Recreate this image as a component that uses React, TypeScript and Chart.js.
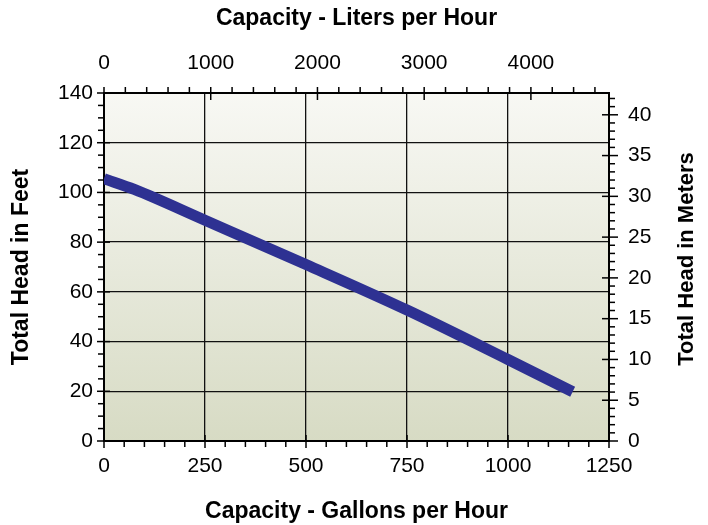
import React, { useEffect, useRef } from 'react';
import { Chart, registerables } from 'chart.js';

Chart.register(...registerables);

// ---- data ----
const gallonsPerHour = [0, 75, 250, 500, 750, 1000, 1160];
const headFeet = [105.5, 101.2, 88.8, 71, 52.7, 32.8, 19.8];

const gallonTicks = [0, 250, 500, 750, 1000, 1250];
const literTicks = [0, 1000, 2000, 3000, 4000];
const feetTicks = [0, 20, 40, 60, 80, 100, 120, 140];
const meterTicks = [0, 5, 10, 15, 20, 25, 30, 35, 40];

const bottomTitle = 'Capacity - Gallons per Hour';
const topTitle = 'Capacity - Liters per Hour';
const leftTitle = 'Total Head in Feet';
const rightTitle = 'Total Head in Meters';

const gallonsMax = 1250;
const feetMax = 140;
const LITERS_PER_GALLON = 3.78541;
const METERS_PER_FOOT = 0.3048;

const FONT = "'Liberation Sans', Arial, Helvetica, sans-serif";

const bgPlugin = {
  id: 'bgGradient',
  beforeDraw(chart: any) {
    const { ctx, chartArea } = chart;
    if (!chartArea) return;
    const g = ctx.createLinearGradient(0, chartArea.top, 0, chartArea.bottom);
    g.addColorStop(0, '#f8f8f4');
    g.addColorStop(1, '#d7dbc4');
    ctx.save();
    ctx.fillStyle = g;
    ctx.fillRect(chartArea.left, chartArea.top, chartArea.right - chartArea.left, chartArea.bottom - chartArea.top);
    ctx.restore();
  },
};

const tickPlugin = {
  id: 'customTicks',
  afterDraw(chart: any) {
    const { ctx, chartArea, scales } = chart;
    const { left, right, top, bottom } = chartArea;
    ctx.save();
    ctx.strokeStyle = '#000';
    ctx.lineWidth = 1.5;
    const line = (x1: number, y1: number, x2: number, y2: number) => {
      ctx.beginPath();
      ctx.moveTo(x1, y1);
      ctx.lineTo(x2, y2);
      ctx.stroke();
    };
    const eps = 1e-6;
    const sx = scales.x;
    for (let v = 0; v <= sx.max + eps; v += 50) {
      const p = sx.getPixelForValue(v);
      const major = Math.abs(v % 250) < eps;
      if (major) line(p, bottom - 6, p, bottom + 7);
      else line(p, bottom, p, bottom + 6);
    }
    const sx2 = scales.x2;
    for (let v = 0; v <= sx2.max + eps; v += 200) {
      const p = sx2.getPixelForValue(v);
      const major = Math.abs(v % 1000) < eps;
      if (major) line(p, top - 6, p, top + 7);
      else line(p, top - 6, p, top);
    }
    const sy = scales.y;
    for (let v = 0; v <= sy.max + eps; v += 5) {
      const p = sy.getPixelForValue(v);
      const major = Math.abs(v % 20) < eps;
      if (major) line(left - 7, p, left + 6, p);
      else line(left - 6, p, left, p);
    }
    const sy2 = scales.y2;
    for (let v = 0; v <= sy2.max + eps; v += 1) {
      const p = sy2.getPixelForValue(v);
      const major = Math.abs(v % 5) < eps;
      if (major) line(right - 7, p, right + 9, p);
      else line(right, p, right + 6, p);
    }
    // right title (reads bottom to top)
    ctx.fillStyle = '#000';
    ctx.font = `bold 22px ${FONT}`;
    ctx.textAlign = 'center';
    ctx.textBaseline = 'middle';
    ctx.translate(687, (top + bottom) / 2 - 8);
    ctx.rotate(-Math.PI / 2);
    ctx.fillText(rightTitle, 0, 0);
    ctx.restore();
  },
};

const setTicks = (values: number[]) => (s: any) => {
  s.ticks = values.map((v) => ({ value: v }));
};

export default function App() {
  const canvasRef = useRef<HTMLCanvasElement | null>(null);

  useEffect(() => {
    const canvas = canvasRef.current;
    if (!canvas) return;
    const tickFont = { family: FONT, size: 21 };
    const titleFont = { family: FONT, size: 23, weight: 'bold' as const };
    const border = { display: true, color: '#000', width: 2 };
    const fmt = (v: any) => String(v);
    const chart = new Chart(canvas, {
      type: 'line',
      data: {
        datasets: [
          {
            data: gallonsPerHour.map((g, i) => ({ x: g, y: headFeet[i] })),
            borderColor: '#2e3192',
            backgroundColor: '#2e3192',
            borderWidth: 11,
            pointRadius: 0,
            borderCapStyle: 'butt',
            cubicInterpolationMode: 'monotone',
            fill: false,
            xAxisID: 'x',
            yAxisID: 'y',
          },
        ],
      },
      options: {
        animation: false,
        responsive: false,
        devicePixelRatio: 1,
        layout: { padding: 0 },
        plugins: {
          legend: { display: false },
          tooltip: { enabled: false },
        },
        scales: {
          x: {
            type: 'linear',
            position: 'bottom',
            min: 0,
            max: gallonsMax,
            afterBuildTicks: setTicks(gallonTicks),
            ticks: { padding: 13, font: tickFont, color: '#000', callback: fmt },
            grid: { color: '#111', lineWidth: 1.3, drawTicks: false },
            border,
            title: { display: true, text: bottomTitle, font: titleFont, color: '#000', padding: { top: 0, bottom: 0 } },
            afterFit: (s: any) => { s.height = 84; },
          },
          x2: {
            type: 'linear',
            position: 'top',
            min: 0,
            max: gallonsMax * LITERS_PER_GALLON,
            afterBuildTicks: setTicks(literTicks),
            ticks: { padding: 17, font: tickFont, color: '#000', callback: fmt },
            grid: { drawOnChartArea: false, drawTicks: false },
            border,
            title: { display: true, text: topTitle, font: titleFont, color: '#000', padding: { top: 5, bottom: 0 } },
            afterFit: (s: any) => { s.height = 93; },
          },
          y: {
            type: 'linear',
            position: 'left',
            min: 0,
            max: feetMax,
            afterBuildTicks: setTicks(feetTicks),
            ticks: { padding: 11, font: tickFont, color: '#000', callback: fmt },
            grid: { color: '#111', lineWidth: 1.3, drawTicks: false },
            border,
            title: { display: true, text: leftTitle, font: titleFont, color: '#000', padding: { top: 8, bottom: 0 } },
            afterFit: (s: any) => { s.width = 104; },
          },
          y2: {
            type: 'linear',
            position: 'right',
            min: 0,
            max: feetMax * METERS_PER_FOOT,
            afterBuildTicks: setTicks(meterTicks),
            ticks: { padding: 19, font: tickFont, color: '#000', callback: fmt },
            grid: { drawOnChartArea: false, drawTicks: false },
            border,
            title: { display: false },
            afterFit: (s: any) => { s.width = 99; },
          },
        },
      } as any,
      plugins: [bgPlugin, tickPlugin],
    });
    return () => chart.destroy();
  }, []);

  return (
    <div style={{ position: 'absolute', left: 0, top: 0, width: 708, height: 525, background: '#fff' }}>
      <canvas ref={canvasRef} width={708} height={525} style={{ display: 'block', width: 708, height: 525 }} />
    </div>
  );
}
